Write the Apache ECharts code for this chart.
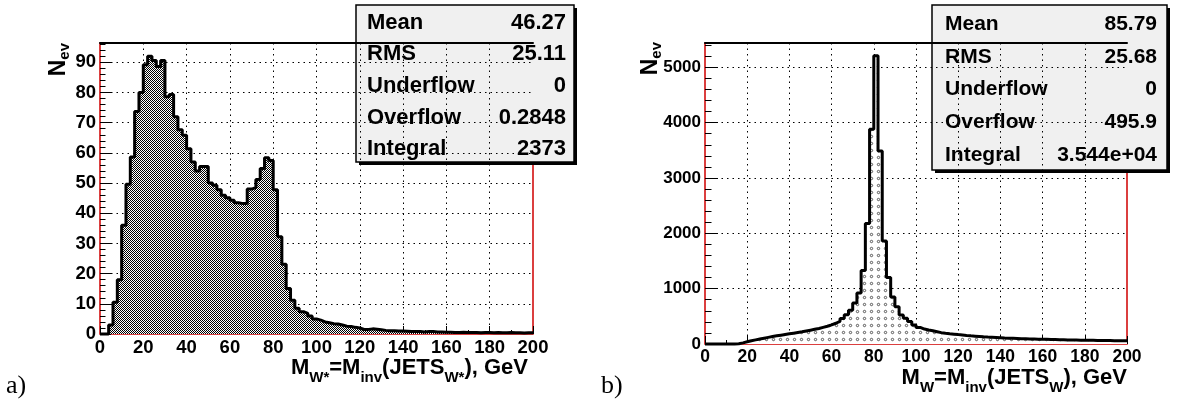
<!DOCTYPE html>
<html>
<head>
<meta charset="utf-8">
<title>M_W histograms</title>
<script src="https://cdn.jsdelivr.net/npm/echarts@6/dist/echarts.min.js"></script>
<style>
  html, body { margin: 0; padding: 0; background: #fff; }
  #main { width: 1177px; height: 402px; }
</style>
</head>
<body>
<div id="main"></div>
<script>
// 2 GeV bins from 0 to 200
const binWidth = 2;

// a) M_W* = M_inv(JETS_W*)
const countsA = [
  0, 0, 3, 10.5, 18, 36, 49.6, 58.6, 73.7, 80,
  89.2, 92, 90.6, 88.6, 90.6, 78.6, 79.3, 72, 67.7, 65.8,
  61.4, 57, 54, 55.5, 55.5, 50, 49.3, 47.8, 46, 45.1,
  44.3, 43.5, 43.2, 43.2, 48, 48.5, 51.2, 54.8, 58.4, 57.5,
  47.8, 32.2, 23.1, 15.1, 11.2, 8.5, 7.4, 6.8, 6, 5,
  4.6, 4, 3.7, 3.4, 3.3, 3, 2.6, 2.5, 2.2, 2,
  1.5, 1.5, 1.7, 1.6, 1.4, 1.2, 1.1, 1.1, 1.0, 1.0,
  0.9, 0.8, 0.8, 0.8, 0.7, 0.8, 0.8, 0.7, 0.7, 0.6,
  0.6, 0.5, 0.5, 0.6, 0.5, 0.5, 0.5, 0.4, 0.5, 0.5,
  0.4, 0.5, 0.4, 0.4, 0.5, 0.4, 0.4, 0.3, 0.4, 0.4
];

// b) M_W = M_inv(JETS_W)
const countsB = [
  0, 0, 0, 0, 0, 0, 0, 5, 20, 40,
  60, 75, 90, 105, 120, 135, 148, 160, 172, 184,
  196, 208, 220, 235, 250, 265, 280, 300, 320, 345,
  375, 410, 460, 530, 610, 740, 920, 1330, 2180, 3880,
  5210, 3490, 1860, 1200, 850, 675, 525, 465, 405, 345,
  300, 270, 252, 238, 222, 205, 195, 186, 178, 170,
  163, 155, 148, 142, 136, 130, 125, 121, 117, 113,
  109, 106, 103, 100, 97, 95, 92, 90, 88, 86,
  84, 82, 80, 78, 76, 74, 73, 72, 70, 68,
  67, 66, 65, 64, 62, 61, 60, 59, 58, 57
];

const statNames = ['Mean', 'RMS', 'Underflow', 'Overflow', 'Integral'];
const statsA = ['46.27', '25.11', '0', '0.2848', '2373'];
const statsB = ['85.79', '25.68', '0', '495.9', '3.544e+04'];

const FONT = '"Liberation Sans", Arial, sans-serif';

// histogram outline: one point per bin low edge, step drawn to the right
function steps(counts) {
  const pts = counts.map((c, i) => [i * binWidth, c]);
  pts.push([counts.length * binWidth, counts[counts.length - 1]]);
  return pts;
}

// ROOT-like fill patterns
function checker() {
  const c = document.createElement('canvas');
  c.width = 2; c.height = 2;
  const g = c.getContext('2d');
  g.fillStyle = '#fff'; g.fillRect(0, 0, 2, 2);
  g.fillStyle = '#000'; g.fillRect(0, 0, 1, 1); g.fillRect(1, 1, 1, 1);
  return c;
}
function rings() {
  const c = document.createElement('canvas');
  c.width = 7; c.height = 7;
  const g = c.getContext('2d');
  g.fillStyle = '#fff'; g.fillRect(0, 0, 7, 7);
  g.strokeStyle = '#333'; g.lineWidth = 0.8;
  g.beginPath(); g.arc(3.5, 3.5, 1.2, 0, Math.PI * 2); g.stroke();
  return c;
}

function xAxisFor(grid, fontSize) {
  return {
    gridIndex: grid, type: 'value', min: 0, max: 200, interval: 20,
    axisLine: { show: false },
    axisTick: { inside: true, length: 8, lineStyle: { color: '#000' } },
    minorTick: { show: true, splitNumber: 2, length: 4, lineStyle: { color: '#000' } },
    axisLabel: { margin: 4, color: '#000', fontSize: fontSize, fontWeight: 'bold', fontFamily: FONT },
    splitLine: { show: true, showMinLine: false, showMaxLine: false, lineStyle: { color: '#000', width: 1, type: [1.5, 4] } }
  };
}
function topAxisFor(grid) {
  return {
    gridIndex: grid, type: 'value', position: 'top', min: 0, max: 200,
    axisLine: { show: true, lineStyle: { color: '#000', width: 2 } },
    axisTick: { show: false }, axisLabel: { show: false }, splitLine: { show: false }
  };
}
function yAxisFor(grid, max, interval, tickLen, fontSize) {
  return {
    gridIndex: grid, type: 'value', min: 0, max: max, interval: interval,
    axisLine: { show: false },
    axisTick: { inside: true, length: tickLen, lineStyle: { color: '#000' } },
    minorTick: { show: true, splitNumber: 5, length: tickLen / 2, lineStyle: { color: '#000' } },
    axisLabel: { margin: 4, color: '#000', fontSize: fontSize, fontWeight: 'bold', fontFamily: FONT,
      showMaxLabel: false, formatter: v => String(v) },
    splitLine: { show: true, showMinLine: false, showMaxLine: false, lineStyle: { color: '#000', width: 1, type: [1.5, 4] } }
  };
}

function statsBox(x, y, w, h, values, rowTop, rowStep, padL, padR, fontSize) {
  const children = [
    { type: 'rect', shape: { x: 3, y: 3, width: w, height: h }, style: { fill: '#000' } },
    { type: 'rect', shape: { x: 0, y: 0, width: w, height: h }, style: { fill: '#f0f0f0', stroke: '#000', lineWidth: 1.5 } }
  ];
  statNames.forEach((name, i) => {
    const ty = rowTop + i * rowStep;
    children.push({ type: 'text', x: padL, y: ty, style: { text: name, fill: '#000', fontSize: fontSize, fontWeight: 'bold', fontFamily: FONT, align: 'left', verticalAlign: 'middle' } });
    children.push({ type: 'text', x: w - padR, y: ty, style: { text: values[i], fill: '#000', fontSize: fontSize, fontWeight: 'bold', fontFamily: FONT, align: 'right', verticalAlign: 'middle' } });
  });
  return { type: 'group', x: x, y: y, z: 100, children: children };
}

const titleRich = {
  m: { fontSize: 22, fontWeight: 'bold', fontFamily: FONT, verticalAlign: 'top', lineHeight: 24 },
  s: { fontSize: 15, fontWeight: 'bold', fontFamily: FONT, verticalAlign: 'top', padding: [13, 0, 0, 0] }
};
const nevRich = {
  n: { fontSize: 23, fontWeight: 'bold', fontFamily: FONT, verticalAlign: 'top', lineHeight: 24 },
  e: { fontSize: 15, fontWeight: 'bold', fontFamily: FONT, verticalAlign: 'top', padding: [10, 0, 0, 0] }
};

function xTitle(x, y, sub) {
  return { type: 'text', x: x, y: y, z: 100, style: {
    text: '{m|M}{s|' + sub + '}{m|=M}{s|inv}{m|(JETS}{s|' + sub + '}{m|), GeV}',
    rich: titleRich, fill: '#000', align: 'right', verticalAlign: 'top' } };
}
function yTitle(x, y) {
  return { type: 'text', x: x, y: y, rotation: Math.PI / 2, z: 100, style: {
    text: '{n|N}{e|ev}', rich: nevRich, fill: '#000', align: 'right', verticalAlign: 'bottom' } };
}
function panelLabel(x, y, txt) {
  return { type: 'text', x: x, y: y, style: { text: txt, fill: '#000', fontSize: 26, fontFamily: '"Liberation Serif", serif', align: 'left', verticalAlign: 'bottom' } };
}

const chart = echarts.init(document.getElementById('main'), null, { renderer: 'canvas' });

const option = {
  animation: false,
  backgroundColor: '#fff',
  grid: [
    { left: 100, top: 43, width: 433, height: 291, show: true, borderColor: '#d00000', borderWidth: 1.5 },
    { left: 705, top: 43, width: 422, height: 301, show: true, borderColor: '#d00000', borderWidth: 1.5 }
  ],
  xAxis: [xAxisFor(0, 18.5), xAxisFor(1, 17.5), topAxisFor(0), topAxisFor(1)],
  yAxis: [yAxisFor(0, 96.4, 10, 11, 18.5), yAxisFor(1, 5440, 1000, 13, 17)],
  series: [
    {
      type: 'line', xAxisIndex: 0, yAxisIndex: 0, data: steps(countsA), step: 'end',
      symbol: 'none', clip: false, z: 3,
      lineStyle: { color: '#000', width: 3 },
      areaStyle: { color: { image: checker(), repeat: 'repeat' }, opacity: 1 }
    },
    {
      type: 'line', xAxisIndex: 1, yAxisIndex: 1, data: steps(countsB), step: 'end',
      symbol: 'none', clip: false, z: 3,
      lineStyle: { color: '#000', width: 3 },
      areaStyle: { color: { image: rings(), repeat: 'repeat' }, opacity: 1 }
    }
  ],
  graphic: [
    statsBox(356, 5, 218, 157, statsA, 17.5, 31.7, 11, 8, 22),
    statsBox(932, 5, 235, 165, statsB, 19, 32.8, 13, 10, 21),
    xTitle(528, 357, 'W*'),
    xTitle(1127, 367, 'W'),
    yTitle(72, 43),
    yTitle(664, 42),
    panelLabel(6, 399, 'a)'),
    panelLabel(601, 399, 'b)')
  ]
};

chart.setOption(option);
</script>
</body>
</html>
